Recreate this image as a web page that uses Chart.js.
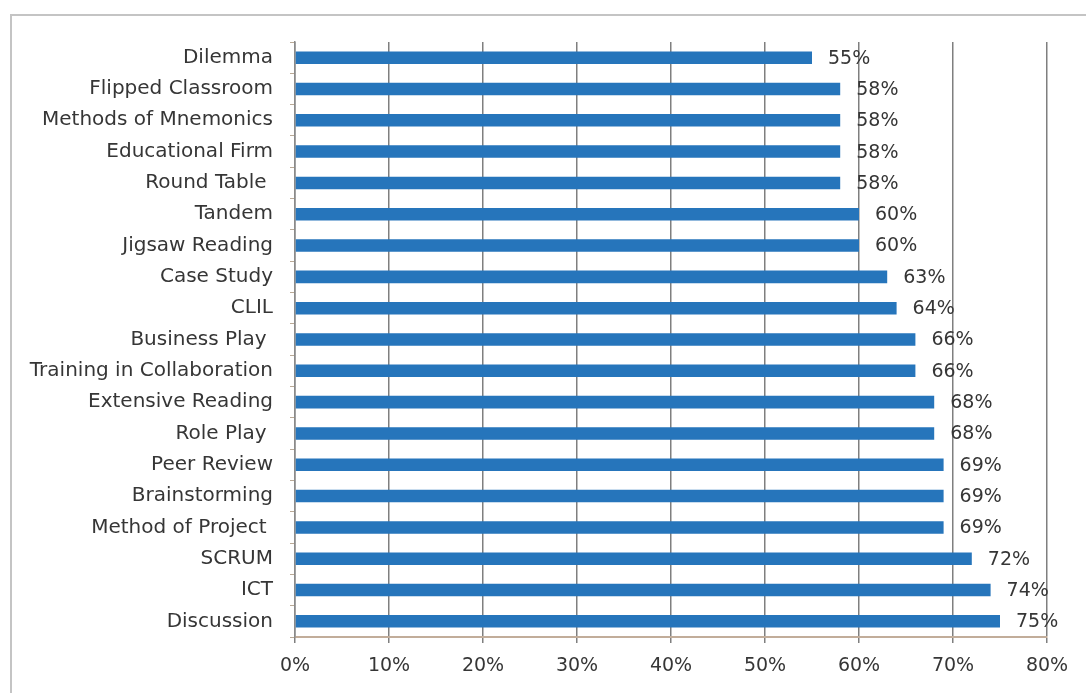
<!DOCTYPE html>
<html>
<head>
<meta charset="utf-8">
<script src="https://cdn.jsdelivr.net/npm/chart.js@4"></script>
<style>
  html, body { margin: 0; padding: 0; background: #fff; }
  #wrap { position: relative; width: 1086px; height: 693px; overflow: hidden; }
  #frame { position: absolute; left: 10px; top: 14px; width: 2000px; height: 2000px;
           border-top: 2px solid #c4c4c4; border-left: 2px solid #c4c4c4; }
  #chart { position: absolute; left: 0; top: 0; }
</style>
</head>
<body>
<div id="wrap">
  <div id="frame"></div>
  <canvas id="chart" width="1086" height="693"></canvas>
</div>
<script>
const methods = ['Dilemma', 'Flipped Classroom', 'Methods of Mnemonics', 'Educational Firm', 'Round Table ',
    'Tandem', 'Jigsaw Reading', 'Case Study', 'CLIL', 'Business Play ', 'Training in Collaboration',
    'Extensive Reading', 'Role Play ', 'Peer Review', 'Brainstorming', 'Method of Project ',
    'SCRUM', 'ICT', 'Discussion'];
const shares = [55, 58, 58, 58, 58, 60, 60, 63, 64, 66, 66, 68, 68, 69, 69, 69, 72, 74, 75];
const xTicks = [0, 10, 20, 30, 40, 50, 60, 70, 80];

const textColor = '#363636';
const fontFamily = '"DejaVu Sans", sans-serif';

// value labels to the right of each bar
const barLabels = {
    id: 'barLabels',
    afterDatasetsDraw(chart) {
        const ctx = chart.ctx;
        const meta = chart.getDatasetMeta(0);
        ctx.save();
        ctx.font = '19px ' + fontFamily;
        ctx.fillStyle = textColor;
        ctx.textAlign = 'left';
        ctx.textBaseline = 'middle';
        meta.data.forEach((bar, i) => {
            ctx.fillText(shares[i] + '%', bar.x + 16, bar.y + 1);
        });
        ctx.restore();
    }
};

new Chart(document.getElementById('chart'), {
    type: 'bar',
    data: {
        labels: methods,
        datasets: [{
            data: shares,
            backgroundColor: '#2675bb',
            borderWidth: 0,
            categoryPercentage: 1,
            barPercentage: 0.4
        }]
    },
    options: {
        indexAxis: 'y',
        responsive: false,
        animation: false,
        layout: { padding: { top: 42, right: 39, bottom: 0, left: 0 } },
        plugins: {
            legend: { display: false },
            tooltip: { enabled: false }
        },
        scales: {
            x: {
                min: 0,
                max: 80,
                afterBuildTicks: scale => { scale.ticks = xTicks.map(v => ({ value: v })); },
                afterFit: scale => { scale.height = 56; },
                grid: { color: '#7f7f7f', lineWidth: 1.5, tickLength: 6, drawOnChartArea: true },
                border: { color: '#c2ad9a', width: 2 },
                ticks: {
                    color: textColor,
                    padding: 12,
                    font: { family: fontFamily, size: 19 },
                    callback: v => v + '%'
                }
            },
            y: {
                afterFit: scale => { scale.width = 295; },
                grid: { offset: true, drawOnChartArea: false, tickLength: 5, color: '#b9a996' },
                border: { color: '#8a8a8a', width: 1.5 },
                ticks: {
                    color: textColor,
                    padding: 17,
                    autoSkip: false,
                    font: { family: fontFamily, size: 20 }
                }
            }
        }
    },
    plugins: [barLabels]
});
</script>
</body>
</html>
